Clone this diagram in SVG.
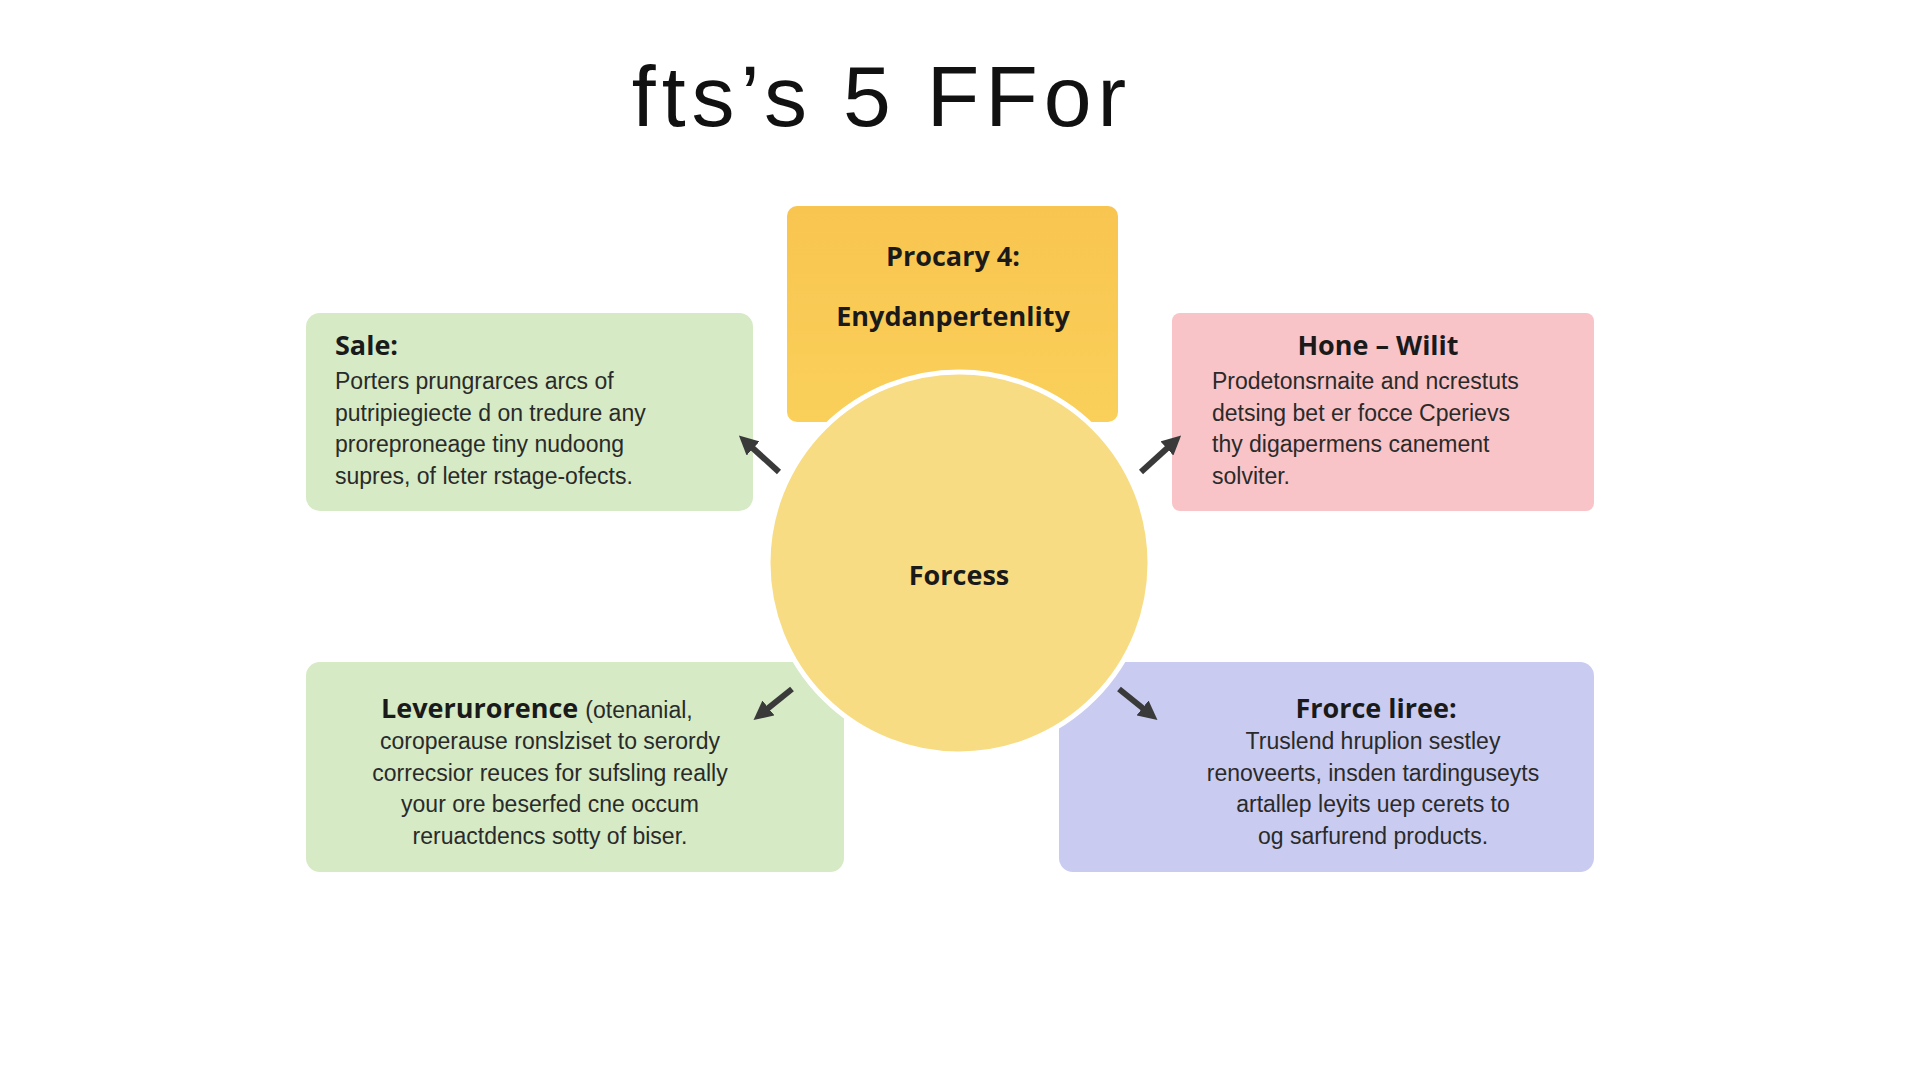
<svg xmlns="http://www.w3.org/2000/svg" width="1920" height="1080" viewBox="0 0 1920 1080">
<defs>
<style>
.t{font-family:"Liberation Sans",Arial,sans-serif;fill:#2a2a2a;font-size:23px}
.h{font-family:"Open Sans","Liberation Sans",sans-serif;font-weight:bold;fill:#1a1a1a;font-size:27px}
.c{text-anchor:middle}
.ar{stroke:#3a3a3a;stroke-width:6;fill:none;marker-end:url(#m)}
</style>
<marker id="m" viewBox="0 0 10 10" refX="5" refY="5" markerWidth="3.2" markerHeight="3.2" orient="auto"><path d="M0,0L10,5L0,10z" fill="#3a3a3a"/></marker>
<linearGradient id="gy" x1="0" y1="0" x2="0" y2="1"><stop offset="0" stop-color="#F8C550"/><stop offset="1" stop-color="#FAD05A"/></linearGradient>
</defs>
<rect width="1920" height="1080" fill="#fff"/>
<text x="882" y="126" class="c" font-family="'Liberation Sans',Arial,sans-serif" font-size="86" fill="#111" letter-spacing="6">fts’s  5  FFor</text>
<g id="top"><rect x="787" y="206" width="331" height="216" rx="10" fill="url(#gy)"/>
<text x="953" y="266" class="h c" font-size="26">Procary 4:</text>
<text x="953" y="326" class="h c" font-size="22">Enydanpertenlity</text></g>
<g id="sale"><rect x="306" y="313" width="447" height="198" rx="14" fill="#D5EAC5"/>
<text x="335" y="355" class="h">Sale:</text>
<text class="t" x="335"><tspan y="389">Porters prungrarces arcs of</tspan><tspan x="335" y="421">putripiegiecte d on tredure any</tspan><tspan x="335" y="452">proreproneage tiny nudoong</tspan><tspan x="335" y="484">supres, of leter rstage-ofects.</tspan></text></g>
<g id="hone"><rect x="1172" y="313" width="422" height="198" rx="8" fill="#F8C4C8"/>
<text x="1378" y="355" class="h c">Hone – Wilit</text>
<text class="t" x="1212"><tspan y="389">Prodetonsrnaite and ncrestuts</tspan><tspan x="1212" y="421">detsing bet er focce Cperievs</tspan><tspan x="1212" y="452">thy digapermens canement</tspan><tspan x="1212" y="484">solviter.</tspan></text></g>
<g id="lever"><rect x="306" y="662" width="538" height="210" rx="14" fill="#D5EAC5"/>
<text x="381" y="718" class="h">Leverurorence <tspan class="t" font-weight="normal" font-size="24">(otenanial,</tspan></text>
<text class="t c"><tspan x="550" y="749">coroperause ronslziset to serordy</tspan><tspan x="550" y="781">correcsior reuces for sufsling really</tspan><tspan x="550" y="812">your ore beserfed cne occum</tspan><tspan x="550" y="844">reruactdencs sotty of biser.</tspan></text></g>
<g id="force"><rect x="1059" y="662" width="535" height="210" rx="14" fill="#C9CCF0"/>
<text x="1376" y="718" class="h c">Frorce liree:</text>
<text class="t c"><tspan x="1373" y="749">Truslend hruplion sestley</tspan><tspan x="1373" y="781">renoveerts, insden tardinguseyts</tspan><tspan x="1373" y="812">artallep leyits uep cerets to</tspan><tspan x="1373" y="844">og sarfurend products.</tspan></text></g>
<g id="center"><circle cx="959" cy="563" r="191" fill="#F8DC84" stroke="#fff" stroke-width="5"/>
<text x="959" y="585" class="h c" font-size="60">Forcess</text></g>
<g id="connectors">
<path class="ar" d="M779,472L746,442"/>
<path class="ar" d="M1141,472L1174,442"/>
<path class="ar" d="M792,689L761,714"/>
<path class="ar" d="M1119,689L1150,714"/>
</g>
</svg>
